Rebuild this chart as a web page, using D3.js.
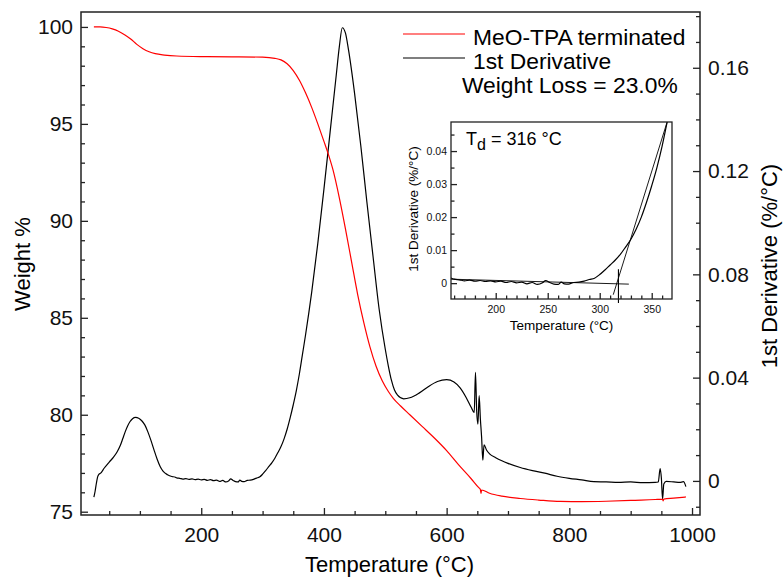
<!DOCTYPE html>
<html>
<head>
<meta charset="utf-8">
<script src="https://cdn.jsdelivr.net/npm/d3@7"></script>
<style>
body { margin: 0; background: #fff; }
svg { display: block; font-family: "Liberation Sans", Arial, Helvetica, sans-serif; }
.axis path.domain { display: none; }
.axis line { stroke: #222; stroke-width: 1.3px; }
</style>
</head>
<body>
<svg id="drawing_region"></svg>
<script>
// weight curve (red)
const weight_temp = [25, 35, 45, 55, 65, 75, 85, 95, 105, 115,
    125, 140, 160, 200, 250, 300, 320, 330, 340, 350,
    360, 370, 380, 390, 400, 407, 415, 425, 435, 445,
    455, 465, 475, 485, 495, 505, 513, 525, 540, 560,
    580, 600, 620, 640, 652, 655, 656, 657, 670, 690,
    720, 750, 785, 820, 860, 900, 940, 952, 953, 954,
    970, 990];
const weight_pct = [100.0, 100.0, 99.97, 99.9, 99.78, 99.6, 99.38, 99.1, 98.88, 98.72,
    98.62, 98.55, 98.5, 98.47, 98.46, 98.44, 98.38, 98.3, 98.1, 97.75,
    97.25, 96.6, 95.85, 95.0, 94.1, 93.45, 92.6, 91.2, 89.6, 87.9,
    86.2, 84.75, 83.5, 82.5, 81.75, 81.2, 80.85, 80.45, 80.0, 79.4,
    78.8, 78.15, 77.4, 76.7, 76.25, 76.15, 75.95, 76.12, 75.95, 75.8,
    75.68, 75.6, 75.53, 75.52, 75.54, 75.58, 75.63, 75.64, 75.56, 75.65,
    75.7, 75.76];

// 1st derivative (black)
const deriv_temp = [25, 27, 29, 31, 33, 36, 42, 50, 57, 63,
    68, 72, 76, 80, 84, 88, 93, 98, 103, 108,
    113, 118, 123, 128, 133, 138, 145, 152, 157, 160,
    165, 170, 175, 180, 185, 190, 195, 200, 205, 210,
    215, 220, 225, 230, 235, 240, 245, 248, 252, 256,
    260, 263, 266, 270, 275, 280, 285, 290, 295, 300,
    305, 310, 315, 320, 325, 330, 335, 340, 345, 350,
    355, 360, 365, 370, 380, 390, 400, 410, 420, 425,
    430, 435, 440, 450, 460, 470, 480, 490, 500, 505,
    510, 515, 520, 530, 540, 555, 570, 585, 600, 612,
    622, 632, 640, 645, 647, 649, 651, 653, 655, 657,
    659, 661, 665, 670, 680, 690, 700, 720, 740, 760,
    780, 800, 820, 840, 860, 880, 900, 920, 940, 945,
    948, 950, 952, 954, 958, 970, 980, 986, 990];
const deriv_val = [-0.0063, -0.004, -0.001, 0.0015, 0.0025, 0.003, 0.005, 0.0073, 0.0092, 0.0113,
    0.0137, 0.0163, 0.019, 0.0213, 0.023, 0.0241, 0.0246, 0.0243, 0.0233, 0.0217,
    0.019, 0.0157, 0.012, 0.0085, 0.0056, 0.0037, 0.0024, 0.0017, 0.0015, 0.0012,
    0.0010, 0.0007, 0.0009, 0.0006, 0.0008, 0.0005, 0.0007, 0.0004, 0.0006, 0.0002,
    0.0005, 0.0001, 0.0003, -0.0002, 0.0002, -0.0004, 0.0001, 0.0008, 0.0002, -0.0003,
    -0.0004, 0.0003, -0.0002, -0.0003, 0.0002, 0.0003, 0.0006, 0.0011, 0.0015, 0.0026,
    0.0040, 0.0055, 0.0070, 0.0088, 0.0110, 0.0133, 0.0163, 0.0200, 0.0245, 0.0295,
    0.0350, 0.0415, 0.0490, 0.0565, 0.0730, 0.0920, 0.1130, 0.1350, 0.1570, 0.1680,
    0.1755, 0.1735, 0.1670, 0.1500, 0.1300, 0.1080, 0.0870, 0.0665, 0.0510, 0.0445,
    0.0390, 0.0352, 0.0332, 0.0318, 0.0322, 0.0340, 0.0365, 0.0385, 0.0392, 0.0383,
    0.0360, 0.0322, 0.0285, 0.0265, 0.0420, 0.0270, 0.0220, 0.0330, 0.0240, 0.0170,
    0.0080, 0.0140, 0.0120, 0.0105, 0.0090, 0.0078, 0.0068, 0.0052, 0.0040, 0.0030,
    0.0018, 0.0010, 0.0004, -0.0003, -0.0004, -0.0006, -0.0004, -0.0007, -0.0006, -0.0004,
    0.0048, 0.0012, -0.0070, -0.0012, -0.0002, -0.0004, -0.0006, -0.0003, -0.0022];

// onset construction in the inset
const baseline_temp = [157, 328];
const baseline_val = [0.0012, -0.0003];
const tangent_temp = [313, 366];
const tangent_val = [-0.0035, 0.050];
const td_temp = [318, 318];
const td_val = [0.0042, -0.006];

const x_ticks = [200, 400, 600, 800, 1000];
const weight_ticks = [75, 80, 85, 90, 95, 100];
const deriv_ticks = [0, 0.04, 0.08, 0.12, 0.16];
const inset_x_ticks = [200, 250, 300, 350];
const inset_y_ticks = [0, 0.01, 0.02, 0.03, 0.04];

const legend_labels = ["MeO-TPA terminated", "1st Derivative"];
const legend_colors = ["#ff0000", "#000000"];

class TgaChart {

    constructor( config ) {
        this.config = {
            parent: config.parent,
            width: config.width || 783,
            height: config.height || 579,
            margin: config.margin || {top:12, right:83, bottom:64, left:81},
            inset: config.inset || {left:451, top:122, width:221, height:177}
        };
        this.init();
    }

    init() {
        let self = this;
        self.svg = d3.select( self.config.parent )
            .attr( 'width', self.config.width )
            .attr( 'height', self.config.height );
        self.inner_width = self.config.width - self.config.margin.left - self.config.margin.right;
        self.inner_height = self.config.height - self.config.margin.top - self.config.margin.bottom;
        self.chart = self.svg.append('g')
            .attr('transform', `translate(${self.config.margin.left}, ${self.config.margin.top})`);

        self.xscale = d3.scaleLinear().domain([4, 1013]).range([0, self.inner_width]);
        self.wscale = d3.scaleLinear().domain([74.83, 100.77]).range([self.inner_height, 0]);
        self.dscale = d3.scaleLinear().domain([-0.0132, 0.1816]).range([self.inner_height, 0]);

        const ins = self.config.inset;
        self.inset = self.svg.append('g')
            .attr('transform', `translate(${ins.left}, ${ins.top})`);
        self.ix = d3.scaleLinear().domain([157, 369.5]).range([0, ins.width]);
        self.iy = d3.scaleLinear().domain([-0.0048, 0.0488]).range([ins.height, 0]);

        const defs = self.svg.append('defs');
        defs.append('clipPath').attr('id', 'main_clip')
            .append('rect').attr('width', self.inner_width).attr('height', self.inner_height);
        defs.append('clipPath').attr('id', 'inset_clip')
            .append('rect').attr('width', ins.width).attr('height', ins.height);
    }

    render() {
        let self = this;
        const W = self.inner_width, H = self.inner_height;
        const ins = self.config.inset;

        // main curves
        const plot = self.chart.append('g').attr('clip-path', 'url(#main_clip)');
        const wline = d3.line()
            .x( i => self.xscale(weight_temp[i]) )
            .y( i => self.wscale(weight_pct[i]) )
            .curve(d3.curveMonotoneX);
        const dline = d3.line()
            .x( i => self.xscale(deriv_temp[i]) )
            .y( i => self.dscale(deriv_val[i]) )
            .curve(d3.curveMonotoneX);
        plot.append('path')
            .attr('d', dline(d3.range(deriv_temp.length)))
            .attr('fill', 'none').attr('stroke', '#000').attr('stroke-width', 1.2);
        plot.append('path')
            .attr('d', wline(d3.range(weight_temp.length)))
            .attr('fill', 'none').attr('stroke', '#ff0000').attr('stroke-width', 1.2);

        // main axes, ticks inward
        const minor_x = d3.range(50, 1001, 50).filter( t => t % 200 !== 0 );
        const minor_w = d3.range(75, 101).filter( t => t % 5 !== 0 );
        const minor_d = d3.range(-1, 19).filter( i => i % 4 !== 0 ).map( i => i / 100 );

        const xg = self.chart.append('g').attr('class', 'axis')
            .attr('transform', `translate(0, ${H})`);
        xg.call( d3.axisBottom(self.xscale).tickValues(x_ticks).tickSizeInner(-7).tickSizeOuter(0).tickPadding(12)
            .tickFormat(d3.format('d')) );
        xg.append('g').call( d3.axisBottom(self.xscale).tickValues(minor_x).tickSizeInner(-4).tickSizeOuter(0).tickFormat('') );

        const yg = self.chart.append('g').attr('class', 'axis');
        yg.call( d3.axisLeft(self.wscale).tickValues(weight_ticks).tickSizeInner(-7).tickSizeOuter(0).tickPadding(8) );
        yg.append('g').call( d3.axisLeft(self.wscale).tickValues(minor_w).tickSizeInner(-4).tickSizeOuter(0).tickFormat('') );

        const rg = self.chart.append('g').attr('class', 'axis')
            .attr('transform', `translate(${W}, 0)`);
        rg.call( d3.axisRight(self.dscale).tickValues(deriv_ticks).tickSizeInner(-7).tickSizeOuter(0).tickPadding(8)
            .tickFormat( d => d === 0 ? '0' : d3.format('.2f')(d) ) );
        rg.append('g').call( d3.axisRight(self.dscale).tickValues(minor_d).tickSizeInner(-4).tickSizeOuter(0).tickFormat('') );

        self.chart.selectAll('.axis text')
            .attr('fill', '#111')
            .style('font-size', '21px')
            .style('font-family', '"Liberation Sans", Arial, sans-serif');

        self.chart.append('rect')
            .attr('width', W).attr('height', H)
            .attr('fill', 'none').attr('stroke', '#222').attr('stroke-width', 1.5);

        // axis titles
        self.svg.append('text')
            .attr('x', self.config.margin.left + W / 2 - 1).attr('y', 572)
            .attr('text-anchor', 'middle').style('font-size', '22px')
            .text('Temperature (°C)');
        self.svg.append('text')
            .attr('transform', 'translate(30, 264) rotate(-90)')
            .attr('text-anchor', 'middle').style('font-size', '22px')
            .text('Weight %');
        self.svg.append('text')
            .attr('transform', 'translate(777, 266) rotate(-90)')
            .attr('text-anchor', 'middle').style('font-size', '22px')
            .text('1st Derivative (%/°C)');

        // legend
        const lg = self.svg.append('g');
        lg.selectAll('line')
            .data(legend_labels)
            .enter().append('line')
            .attr('x1', 403).attr('x2', 465)
            .attr('y1', (d, i) => 34 + i * 24).attr('y2', (d, i) => 34 + i * 24)
            .attr('stroke', (d, i) => legend_colors[i]).attr('stroke-width', 1.2);
        lg.selectAll('text')
            .data(legend_labels)
            .enter().append('text')
            .attr('x', 473).attr('y', (d, i) => 45 + i * 24)
            .style('font-size', '22.8px')
            .text( d => d );
        self.svg.append('text')
            .attr('x', 462).attr('y', 93)
            .style('font-size', '22.8px')
            .text('Weight Loss = 23.0%');

        // inset
        self.inset.append('rect')
            .attr('width', ins.width).attr('height', ins.height)
            .attr('fill', '#fff');
        const iplot = self.inset.append('g').attr('clip-path', 'url(#inset_clip)');
        const idx = d3.range(deriv_temp.length).filter( i => deriv_temp[i] >= 150 && deriv_temp[i] <= 372 );
        const iline = d3.line()
            .x( i => self.ix(deriv_temp[i]) )
            .y( i => self.iy(deriv_val[i]) )
            .curve(d3.curveMonotoneX);
        iplot.append('path')
            .attr('d', iline(idx))
            .attr('fill', 'none').attr('stroke', '#000').attr('stroke-width', 1.2);
        const seg = (tt, vv) => d3.line()
            .x( i => self.ix(tt[i]) )
            .y( i => self.iy(vv[i]) )( d3.range(tt.length) );
        iplot.append('path')
            .attr('d', seg(baseline_temp, baseline_val))
            .attr('fill', 'none').attr('stroke', '#000').attr('stroke-width', 0.9);
        self.inset.append('path')
            .attr('d', seg(tangent_temp, tangent_val))
            .attr('clip-path', 'url(#inset_clip)')
            .attr('fill', 'none').attr('stroke', '#000').attr('stroke-width', 0.9);
        self.inset.append('path')
            .attr('d', seg(td_temp, td_val))
            .attr('fill', 'none').attr('stroke', '#000').attr('stroke-width', 1.1);

        const minor_ix = d3.range(160, 370, 10).filter( t => t % 50 !== 0 );
        const minor_iy = d3.range(0, 10).filter( i => i % 2 === 1 ).map( i => i * 0.005 );

        const ixg = self.inset.append('g').attr('class', 'axis iaxis')
            .attr('transform', `translate(0, ${ins.height})`);
        ixg.call( d3.axisBottom(self.ix).tickValues(inset_x_ticks).tickSizeInner(-6).tickSizeOuter(0).tickPadding(7) );
        ixg.append('g').call( d3.axisBottom(self.ix).tickValues(minor_ix).tickSizeInner(-3.5).tickSizeOuter(0).tickFormat('') );
        const iyg = self.inset.append('g').attr('class', 'axis iaxis');
        iyg.call( d3.axisLeft(self.iy).tickValues(inset_y_ticks).tickSizeInner(-6).tickSizeOuter(0).tickPadding(4)
            .tickFormat( d => d === 0 ? '0' : d3.format('.2f')(d) ) );
        iyg.append('g').call( d3.axisLeft(self.iy).tickValues(minor_iy).tickSizeInner(-3.5).tickSizeOuter(0).tickFormat('') );
        self.inset.selectAll('.iaxis text')
            .attr('fill', '#111')
            .style('font-size', '10.5px')
            .style('font-family', '"Liberation Sans", Arial, sans-serif');

        self.inset.append('rect')
            .attr('width', ins.width).attr('height', ins.height)
            .attr('fill', 'none').attr('stroke', '#222').attr('stroke-width', 1.3);

        self.svg.append('text')
            .attr('x', ins.left + ins.width / 2).attr('y', 330)
            .attr('text-anchor', 'middle').style('font-size', '13.5px')
            .text('Temperature (°C)');
        self.svg.append('text')
            .attr('transform', 'translate(418, 209) rotate(-90)')
            .attr('text-anchor', 'middle').style('font-size', '13.5px')
            .text('1st Derivative (%/°C)');

        const td = self.svg.append('text')
            .attr('x', 466).attr('y', 145)
            .style('font-size', '18px');
        td.append('tspan').text('T');
        td.append('tspan').attr('dy', 5).style('font-size', '16px').text('d');
        td.append('tspan').attr('dy', -5).text(' = 316 °C');
    }
}

const chart = new TgaChart({ parent: '#drawing_region' });
chart.render();
</script>
</body>
</html>
